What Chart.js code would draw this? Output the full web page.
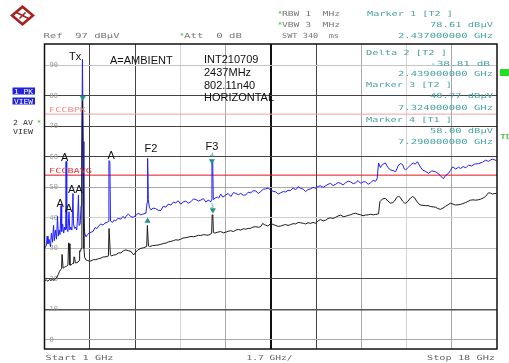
<!DOCTYPE html>
<html>
<head>
<meta charset="utf-8">
<script src="https://cdn.jsdelivr.net/npm/chart.js@4.4.1/dist/chart.umd.min.js"></script>
<style>
  html, body { margin: 0; padding: 0; background: #fff; overflow: hidden; }
  #wrap { width: 509px; height: 363px; }
</style>
</head>
<body>
<div id="wrap"><canvas id="spec" width="509" height="363"></canvas></div>
<script>
// sweep 1 .. 18 GHz, 1.7 GHz/div ; ref 97 dBuV, 10 dB/div
const xTicks = [1, 2.7, 4.4, 6.1, 7.8, 9.5, 11.2, 12.9, 14.6, 16.3, 18];
const yTicks = [0, 10, 20, 30, 40, 50, 60, 70, 80, 90];

// limit lines (dBuV)
const fccPk = 74;
const fccAvg = 54;

// trace 1 : peak view (GHz, dBuV)
const pkTrace = [
  [1.02, 30.2], [1.075, 31], [1.10, 34], [1.13, 31.5], [1.17, 33], [1.225, 30.5], [1.26, 35], [1.30, 32],
  [1.34, 37.5], [1.37, 32.5], [1.41, 36], [1.45, 33], [1.49, 40.5], [1.52, 34], [1.55, 36], [1.585, 34.5],
  [1.62, 44], [1.645, 35.5], [1.68, 38], [1.72, 35], [1.76, 37], [1.795, 36], [1.81, 58.5], [1.825, 58],
  [1.845, 36.5], [1.88, 35.5], [1.92, 42], [1.95, 36], [1.99, 37], [2.03, 36], [2.07, 48], [2.09, 38],
  [2.13, 36.5], [2.17, 37], [2.21, 36], [2.245, 40], [2.275, 47.5], [2.30, 37.5], [2.34, 38], [2.375, 44],
  [2.40, 60], [2.425, 92], [2.44, 92], [2.455, 65], [2.48, 40], [2.51, 35], [2.56, 33.8], [2.62, 34.5],
  [2.67, 35], [2.75, 35.3], [2.82, 35.5], [2.90, 36.8], [2.97, 36.5], [3.05, 37.5], [3.12, 38], [3.20, 37.6],
  [3.27, 38.3], [3.35, 38.5], [3.40, 38.8], [3.42, 58.8], [3.455, 58.5], [3.48, 39], [3.55, 38.5], [3.62, 39.3],
  [3.68, 39], [3.75, 39.8], [3.87, 39.6], [3.95, 40.5], [4.02, 39.8], [4.06, 40.5], [4.15, 41.2], [4.25, 40.4],
  [4.33, 40.2], [4.43, 40.8], [4.52, 41.5], [4.62, 41], [4.72, 41.3], [4.81, 41.5], [4.855, 45], [4.875, 59.5],
  [4.90, 46], [4.94, 43.5], [5.00, 42.6], [5.08, 43.2], [5.18, 43], [5.27, 42.5], [5.37, 42.4], [5.46, 43.8],
  [5.56, 43.5], [5.65, 44.5], [5.75, 44.2], [5.84, 45.2], [5.93, 44.9], [6.02, 45.6], [6.12, 44.5], [6.21, 45.2],
  [6.31, 45.5], [6.40, 44.8], [6.50, 45.3], [6.60, 46.2], [6.69, 46], [6.78, 45.5], [6.87, 45.8], [6.97, 46.3],
  [7.06, 45.2], [7.15, 45.8], [7.25, 45.3], [7.28, 46], [7.29, 58.7], [7.32, 58.5], [7.34, 46], [7.42, 46.5],
  [7.50, 46.8], [7.55, 46.5], [7.62, 47.8], [7.70, 46.8], [7.81, 47.5], [7.90, 48], [8.00, 47], [8.10, 48.3],
  [8.19, 48], [8.28, 47.6], [8.37, 48], [8.47, 47.4], [8.56, 47.5], [8.65, 48.4], [8.75, 48.2], [8.84, 48.9],
  [8.94, 48.8], [9.03, 48], [9.12, 48.6], [9.22, 49.4], [9.31, 49.5], [9.40, 49.8], [9.50, 49.1], [9.59, 48.7],
  [9.69, 48.5], [9.78, 47.8], [9.87, 48.2], [9.97, 48.6], [10.06, 48.5], [10.15, 49], [10.25, 49], [10.34, 49.8],
  [10.44, 49.2], [10.53, 50.2], [10.62, 49.7], [10.72, 49.4], [10.81, 48.6], [10.90, 49.3], [11.00, 49.5], [11.09, 50],
  [11.19, 49.7], [11.28, 50.3], [11.37, 50.5], [11.47, 50], [11.56, 50.5], [11.65, 51], [11.75, 51.3], [11.84, 50.6],
  [11.94, 51], [12.03, 51.6], [12.13, 51.3], [12.22, 50.8], [12.31, 51.5], [12.41, 52], [12.50, 51.8], [12.60, 51.2],
  [12.69, 51.5], [12.78, 52.2], [12.88, 51.3], [12.97, 51.8], [13.06, 51.8], [13.16, 51], [13.25, 51.5], [13.35, 52.3],
  [13.44, 52], [13.50, 53], [13.55, 58], [13.62, 56.5], [13.70, 57.5], [13.81, 58], [13.90, 56.5], [14.00, 55.7],
  [14.10, 55.5], [14.19, 55.1], [14.30, 57.3], [14.38, 57.8], [14.45, 57.5], [14.52, 56], [14.57, 55.7], [14.66, 56.5],
  [14.75, 57.3], [14.85, 58], [14.93, 57.6], [15.01, 58.4], [15.10, 57], [15.20, 55.7], [15.30, 55.3], [15.43, 54.6],
  [15.55, 55.4], [15.69, 55.1], [15.80, 54.5], [15.90, 53.5], [15.99, 52.9], [16.08, 54], [16.18, 54.6], [16.25, 55.5],
  [16.33, 56.7], [16.45, 56], [16.55, 56.6], [16.63, 56.2], [16.73, 56.8], [16.83, 56.4], [16.93, 57.3], [17.05, 57],
  [17.15, 57.6], [17.31, 57.8], [17.45, 58.2], [17.57, 58.9], [17.68, 58.5], [17.76, 59], [17.83, 59.2], [17.92, 59],
  [17.98, 58.7]
];

// trace 2 : average view (GHz, dBuV)
const avTrace = [
  [1.02, 19.5], [1.08, 19.6], [1.13, 19.2], [1.19, 19.8], [1.24, 19.5], [1.30, 19.8], [1.36, 19.5], [1.42, 20.2],
  [1.47, 20.5], [1.52, 21.5], [1.56, 22.3], [1.60, 23], [1.64, 23.3], [1.66, 28], [1.68, 28], [1.70, 23.5],
  [1.74, 23.8], [1.79, 24], [1.84, 24.2], [1.88, 24.5], [1.905, 31.8], [1.93, 31.5], [1.955, 24.5], [2.00, 24.6],
  [2.05, 25], [2.09, 25], [2.11, 27.2], [2.13, 27], [2.16, 25.2], [2.21, 25.3], [2.26, 25.5], [2.30, 26],
  [2.32, 29.2], [2.35, 29], [2.38, 30], [2.405, 60], [2.425, 78.6], [2.445, 78.6], [2.46, 40], [2.48, 30],
  [2.51, 27], [2.56, 26.2], [2.62, 26], [2.69, 25.8], [2.75, 25.9], [2.84, 26.3], [2.93, 26.3], [3.03, 26.6],
  [3.12, 26.8], [3.21, 27.2], [3.31, 27.2], [3.40, 27.5], [3.425, 36.5], [3.45, 36.5], [3.475, 28], [3.51, 27.5],
  [3.59, 27.8], [3.68, 27.9], [3.78, 28.5], [3.87, 28.5], [3.96, 29.2], [4.06, 29.5], [4.15, 29.2], [4.25, 29],
  [4.31, 28.2], [4.36, 27.9], [4.43, 28.8], [4.51, 29.5], [4.62, 30], [4.72, 30.2], [4.84, 30.6], [4.865, 37.5],
  [4.885, 37.5], [4.905, 30.8], [4.95, 30.6], [5.06, 30.9], [5.18, 31], [5.27, 31.1], [5.37, 31.3], [5.46, 31.6],
  [5.56, 31.7], [5.65, 32.1], [5.75, 32.3], [5.84, 32.5], [5.93, 32.8], [6.02, 32.7], [6.12, 33], [6.21, 33.4],
  [6.31, 33.5], [6.40, 33.7], [6.50, 33.9], [6.60, 33.8], [6.69, 34], [6.78, 34.3], [6.87, 34.2], [6.97, 34.5],
  [7.06, 34.4], [7.15, 34.3], [7.25, 34.7], [7.28, 35], [7.30, 41], [7.325, 40.8], [7.345, 35.2], [7.40, 35],
  [7.50, 35.3], [7.62, 35.5], [7.72, 35.1], [7.81, 35.3], [7.90, 35.6], [8.00, 35.8], [8.10, 35.5], [8.19, 36],
  [8.28, 36.2], [8.37, 36], [8.47, 36.4], [8.56, 36.3], [8.65, 36.5], [8.75, 36.6], [8.84, 37], [8.94, 37.1],
  [9.03, 36.9], [9.12, 37.1], [9.20, 38.2], [9.25, 37.8], [9.31, 37.6], [9.40, 37.3], [9.50, 38.2], [9.59, 37.8],
  [9.69, 37.5], [9.78, 37.2], [9.87, 37.3], [9.97, 37.6], [10.06, 37.8], [10.15, 37.5], [10.25, 37.8], [10.34, 38.1],
  [10.44, 38], [10.53, 38.5], [10.62, 38.4], [10.72, 38.2], [10.81, 38], [10.90, 38.4], [11.00, 38.2], [11.09, 38.5],
  [11.19, 38.2], [11.28, 39], [11.37, 39.5], [11.47, 39], [11.56, 39.2], [11.65, 39.8], [11.75, 40], [11.84, 39.8],
  [11.94, 40.2], [12.03, 40.6], [12.13, 40.9], [12.22, 40.4], [12.31, 40.5], [12.41, 40.8], [12.50, 41], [12.60, 41.4],
  [12.69, 41.5], [12.78, 41.2], [12.88, 41], [12.97, 40.7], [13.06, 40.9], [13.16, 41], [13.25, 41.2], [13.35, 41],
  [13.44, 41.1], [13.55, 41.3], [13.60, 45.3], [13.70, 46.2], [13.81, 46.4], [13.90, 45.5], [14.00, 44.8], [14.08, 45],
  [14.15, 45.5], [14.22, 46.5], [14.30, 47.2], [14.38, 46.5], [14.45, 45.5], [14.52, 44.9], [14.57, 44.8], [14.66, 45.5],
  [14.75, 46.5], [14.83, 47], [14.90, 46.6], [14.98, 45.5], [15.06, 44.6], [15.13, 44.2], [15.22, 44.1], [15.32, 44],
  [15.41, 44], [15.51, 43.7], [15.60, 43.6], [15.69, 43.5], [15.79, 43], [15.88, 42.8], [15.97, 43.2], [16.07, 43.8],
  [16.16, 44.3], [16.25, 44.8], [16.35, 44.5], [16.44, 44.2], [16.54, 44.3], [16.63, 44.4], [16.72, 44.7], [16.82, 45],
  [16.91, 45.4], [17.00, 45.8], [17.10, 45.9], [17.19, 45.8], [17.29, 45.9], [17.38, 46.1], [17.48, 46.5], [17.57, 47],
  [17.64, 47.8], [17.68, 48.2], [17.76, 48.1], [17.83, 47.8], [17.92, 48], [17.98, 48]
];

// marker symbols
const markersDown = [[2.437, 79.5], [7.29, 58.6], [7.324, 42.6]];
const markersUp = [[4.874, 39]];

const xGridColors = ['rgba(0,0,0,0)', '#444', '#444', '#d4d4d4', '#a8a8a8', '#111', '#444', '#a8a8a8', '#d4d4d4', '#a8a8a8', 'rgba(0,0,0,0)'];
const yGridColors = ['#a8a8a8', '#555', '#444', '#bdbdbd', '#d0d0d0', '#a8a8a8', '#444', '#444', '#444', '#c4c4c4'];

const pts = arr => arr.map(p => ({ x: p[0], y: p[1] }));
const MONO = '"DejaVu Sans Mono"';
const TEAL = '#4aa3a3';

// stretched mono text like the analyser font
function ftext(ctx, s, x, y, w, color, align, size) {
  ctx.save();
  ctx.font = (size || 7) + 'px ' + MONO;
  const m = ctx.measureText(s).width;
  ctx.translate(x, y);
  ctx.scale(w / m, 1);
  ctx.textAlign = align || 'left';
  ctx.textBaseline = 'alphabetic';
  ctx.fillStyle = color;
  ctx.fillText(s, 0, 0);
  ctx.restore();
}

function stext(ctx, s, x, y, size) {
  ctx.font = (size || 11) + 'px "Liberation Sans"';
  ctx.fillStyle = '#111';
  ctx.textAlign = 'left';
  ctx.textBaseline = 'alphabetic';
  ctx.fillText(s, x, y);
}

const decor = {
  id: 'decor',
  afterDraw(chart) {
    const ctx = chart.ctx;
    const a = chart.chartArea;
    ctx.save();
    // frame
    ctx.strokeStyle = '#111';
    ctx.lineWidth = 1.5;
    ctx.strokeRect(a.left, a.top, a.right - a.left, a.bottom - a.top);

    // logo
    ctx.save();
    ctx.translate(22.5, 15.5);
    ctx.beginPath();
    ctx.moveTo(0, -10.5); ctx.lineTo(12.5, 0); ctx.lineTo(0, 10.5); ctx.lineTo(-12.5, 0); ctx.closePath();
    ctx.fillStyle = '#a82020'; ctx.fill();
    ctx.beginPath();
    ctx.moveTo(0, -7); ctx.lineTo(8.5, 0); ctx.lineTo(0, 7); ctx.lineTo(-8.5, 0); ctx.closePath();
    ctx.fillStyle = '#fff'; ctx.fill();
    ctx.strokeStyle = '#a82020'; ctx.lineWidth = 1.6;
    ctx.beginPath(); ctx.moveTo(-6, -3); ctx.lineTo(6, 3); ctx.moveTo(-3, 3); ctx.lineTo(3, -3); ctx.stroke();
    ctx.restore();

    // header
    ftext(ctx, 'Ref  97 dB\u00b5V', 43.5, 37.5, 76, '#777');
    ftext(ctx, '*', 180, 37.5, 4, '#22bb22');
    ftext(ctx, 'Att  0 dB', 184, 37.5, 58, '#777');
    ftext(ctx, '*', 278, 16, 4, '#22bb22');
    ftext(ctx, 'RBW 1  MHz', 282, 16, 58, '#777');
    ftext(ctx, '*', 278, 27, 4, '#22bb22');
    ftext(ctx, 'VBW 3  MHz', 282, 27, 58, '#777');
    ftext(ctx, 'SWT 340  ms', 282, 37.5, 57, '#777');
    ftext(ctx, 'Marker 1 [T2 ]', 367, 16, 86, TEAL);
    ftext(ctx, '78.61 dB\u00b5V', 493, 27, 63, TEAL, 'right');
    ftext(ctx, '2.437000000 GHz', 493, 37.5, 95, TEAL, 'right');

    // marker info inside the grid
    ftext(ctx, 'Delta 2 [T2 ]', 366, 55, 81, TEAL);
    ftext(ctx, '-38.81 dB', 490, 65.7, 60, TEAL, 'right');
    ftext(ctx, '2.439000000 GHz', 493, 76, 95, TEAL, 'right');
    ftext(ctx, 'Marker 3 [T2 ]', 366, 87.3, 86, TEAL);
    ftext(ctx, '40.77 dB\u00b5V', 493, 98, 63, TEAL, 'right');
    ftext(ctx, '7.324000000 GHz', 493, 110, 95, TEAL, 'right');
    ftext(ctx, 'Marker 4 [T1 ]', 366, 121.7, 86, TEAL);
    ftext(ctx, '58.00 dB\u00b5V', 493, 132.7, 63, TEAL, 'right');
    ftext(ctx, '7.290000000 GHz', 493, 144, 95, TEAL, 'right');

    // limit line names
    ftext(ctx, 'FCCBPK', 49, 112, 37, '#f08a8a');
    ftext(ctx, 'FCCBAVG', 49, 173, 43, '#e03a3a');

    // footer
    ftext(ctx, 'Start 1 GHz', 45.5, 360, 68, '#666');
    ftext(ctx, '1.7 GHz/', 246.5, 360, 46, '#666');
    ftext(ctx, 'Stop 18 GHz', 495, 360, 68, '#666', 'right');

    // trace boxes on the left
    ctx.fillStyle = '#2323dd';
    ctx.fillRect(12.5, 87.5, 22.5, 7);
    ctx.fillRect(12.5, 97.5, 22.5, 7);
    ftext(ctx, '1 PK', 14, 94, 19, '#fff');
    ftext(ctx, 'VIEW', 14, 104, 19, '#fff');
    ftext(ctx, '2 AV', 13, 124.5, 20, '#333');
    ftext(ctx, '*', 37, 124.5, 4, '#22bb22');
    ftext(ctx, 'VIEW', 13, 134, 20, '#333');

    // right edge flags
    ctx.fillStyle = '#22dd22';
    ctx.fillRect(500, 69, 9, 7);
    ftext(ctx, 'TDF', 500, 139, 18, '#22aa22');

    // annotations
    stext(ctx, 'Tx', 69, 60);
    stext(ctx, 'A=AMBIENT', 110, 63.5);
    stext(ctx, 'INT210709', 204, 63);
    stext(ctx, '2437MHz', 204, 76);
    stext(ctx, '802.11n40', 204, 88.7);
    stext(ctx, 'HORIZONTAL', 204, 101.3);
    stext(ctx, 'A', 61, 161);
    stext(ctx, 'A', 107.5, 159.3);
    stext(ctx, 'F2', 144.5, 152);
    stext(ctx, 'F3', 205.5, 150);
    stext(ctx, 'AA', 68, 193.3);
    stext(ctx, 'A', 56.5, 206.7);
    stext(ctx, 'A', 65, 212.3);

    // marker numbers
    ftext(ctx, '4', 212, 157, 4, TEAL, 'center', 6);
    ftext(ctx, '3', 212, 207.5, 4, TEAL, 'center', 6);
    ctx.restore();
  }
};

new Chart(document.getElementById('spec'), {
  type: 'line',
  data: {
    datasets: [
      {
        label: 'markers down', data: pts(markersDown), showLine: false,
        pointStyle: 'triangle', rotation: 180, pointRadius: 3.5,
        pointBackgroundColor: '#1f8f8f', pointBorderColor: '#1f8f8f', pointBorderWidth: 0
      },
      {
        label: 'markers up', data: pts(markersUp), showLine: false,
        pointStyle: 'triangle', pointRadius: 3.5,
        pointBackgroundColor: '#1f8f8f', pointBorderColor: '#1f8f8f', pointBorderWidth: 0
      },
      {
        label: '2 AV', data: pts(avTrace), borderColor: '#1a1a1a', borderWidth: 1,
        pointRadius: 0, tension: 0, fill: false
      },
      {
        label: '1 PK', data: pts(pkTrace), borderColor: '#1f1fff', borderWidth: 1,
        pointRadius: 0, tension: 0, fill: false
      },
      {
        label: 'FCCBAVG', data: pts([[1, fccAvg], [18, fccAvg]]), borderColor: '#e8141e',
        borderWidth: 1, pointRadius: 0
      },
      {
        label: 'FCCBPK', data: pts([[1, fccPk], [18, fccPk]]), borderColor: '#f4a0a0',
        borderWidth: 1, pointRadius: 0
      }
    ]
  },
  options: {
    responsive: false,
    devicePixelRatio: 1,
    animation: false,
    layout: { padding: { left: 34.5, top: 44, right: 12, bottom: 14 } },
    plugins: { legend: { display: false }, tooltip: { enabled: false } },
    scales: {
      x: {
        type: 'linear', min: 1, max: 18,
        afterBuildTicks: s => { s.ticks = xTicks.map(v => ({ value: v })); },
        ticks: { display: false },
        border: { display: false },
        grid: {
          drawTicks: false,
          color: c => xGridColors[c.index] || 'rgba(0,0,0,0)',
          lineWidth: c => (c.index === 5 ? 2 : 1)
        }
      },
      y: {
        type: 'linear', min: -3, max: 97,
        afterBuildTicks: s => { s.ticks = yTicks.map(v => ({ value: v })); },
        ticks: {
          mirror: true, padding: 5, color: '#9a9a9a',
          font: { family: 'DejaVu Sans Mono', size: 7 }
        },
        border: { display: false },
        grid: {
          drawTicks: false,
          color: c => yGridColors[c.index] || 'rgba(0,0,0,0)',
          lineWidth: c => (c.index === 1 ? 1.6 : 1)
        }
      }
    }
  },
  plugins: [decor]
});
</script>
</body>
</html>
